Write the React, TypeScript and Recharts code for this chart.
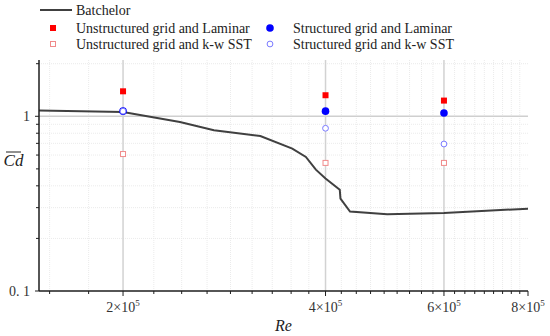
import React from 'react';
import { ComposedChart, Line, Scatter, XAxis, YAxis, ReferenceLine, Label } from 'recharts';

// ---- data ----
const batchelorRe = [150000, 200000, 243000, 273000, 320000, 357000, 374000, 387000, 400000, 420000, 421000, 435000, 494000, 600000, 800000];
const batchelorCd = [1.08, 1.058, 0.928, 0.831, 0.771, 0.653, 0.585, 0.495, 0.44, 0.38, 0.338, 0.285, 0.275, 0.28, 0.296];

const simRe = [200000, 400000, 600000];
const unstructLaminar = [1.39, 1.32, 1.23];
const unstructSST = [0.608, 0.541, 0.541];
const structLaminar = [1.07, 1.07, 1.045];
const structSST = [1.07, 0.854, 0.694];

const xMajorTicks = [200000, 400000, 600000, 800000];
const xMajorMantissa = ['2', '4', '6', '8'];
const xExponent = '5';
const yMajorTicks = [0.1, 1];
const yMajorLabels = ['0. 1', '1'];
const yMinorTicks = [0.2, 0.3, 0.4, 0.5, 0.6, 0.7, 0.8, 0.9, 2];

const seriesNames = [
  'Batchelor',
  'Unstructured grid and Laminar',
  'Unstructured grid and k-w SST',
  'Structured grid and Laminar',
  'Structured grid and k-w SST',
];

const X_DOMAIN = [150000, 800000];
const Y_DOMAIN = [0.1, 2.1];

// minor x ticks: 9 subdivisions of the 2e5 major spacing
const xMinorTicks: number[] = [];
for (let k = -2; k <= 27; k++) {
  if (k % 9 === 0) continue;
  const v = 200000 + (k * 200000) / 9;
  if (v > X_DOMAIN[0] && v < X_DOMAIN[1]) xMinorTicks.push(v);
}
const xAllTicks = [...xMajorTicks, ...xMinorTicks].sort((a, b) => a - b);
const yAllTicks = [...yMajorTicks, ...yMinorTicks].sort((a, b) => a - b);

const toPts = (xs: number[], ys: number[]) => xs.map((re, i) => ({ re, cd: ys[i] }));
const batchelorData = toPts(batchelorRe, batchelorCd);
const ulData = toPts(simRe, unstructLaminar);
const usData = toPts(simRe, unstructSST);
const slData = toPts(simRe, structLaminar);
const ssData = toPts(simRe, structSST);

const FONT = 'Liberation Serif';
const AXIS = '#1e1e1e';
const RED = '#ff0000';
const LRED = '#f08a8a';
const BLUE = '#0000ff';
const LBLUE = '#7a7aff';

const isMajorX = (v: number) => xMajorTicks.indexOf(v);
const isMajorY = (v: number) => yMajorTicks.indexOf(v);

const XTickBottom = (props: any) => {
  const { x, y, payload } = props;
  const idx = isMajorX(payload.value);
  const major = idx >= 0;
  return (
    <g>
      <line x1={x} x2={x} y1={y} y2={y + (major ? 5 : 3)} stroke={AXIS} strokeWidth={1} />
      {major && (
        <text x={x} y={y + 21} textAnchor="middle" style={{ fontFamily: FONT, fontSize: 14 }} fill="#333">
          {xMajorMantissa[idx]}×10
          <tspan dy={-6} style={{ fontSize: 9 }}>{xExponent}</tspan>
        </text>
      )}
    </g>
  );
};

const XTickTop = (props: any) => {
  const { x, y, payload } = props;
  const major = isMajorX(payload.value) >= 0;
  return <line x1={x} x2={x} y1={y} y2={y + (major ? 4 : 3)} stroke={AXIS} strokeWidth={1} />;
};

const YTickLeft = (props: any) => {
  const { x, y, payload } = props;
  const idx = isMajorY(payload.value);
  const major = idx >= 0;
  return (
    <g>
      <line x1={x - (major ? 4 : 3)} x2={x} y1={y} y2={y} stroke={AXIS} strokeWidth={1} />
      {major && (
        <text x={x - 9} y={y + 5} textAnchor="end" style={{ fontFamily: FONT, fontSize: 14 }} fill="#333">
          {yMajorLabels[idx]}
        </text>
      )}
    </g>
  );
};

const YTickRight = (props: any) => {
  const { x, y, payload } = props;
  const major = isMajorY(payload.value) >= 0;
  return <line x1={x - (major ? 4 : 3)} x2={x} y1={y} y2={y} stroke={AXIS} strokeWidth={1} />;
};

const FilledSquare = (p: any) => (
  <rect x={p.cx - 3} y={p.cy - 3} width={6} height={6} fill={RED} />
);
const HollowSquare = (p: any) => (
  <rect x={p.cx - 2.5} y={p.cy - 2.5} width={5} height={5} fill="#fff" stroke={LRED} strokeWidth={1} />
);
const FilledCircle = (p: any) => <circle cx={p.cx} cy={p.cy} r={3.8} fill={BLUE} />;
const HollowCircle = (p: any) => (
  <circle cx={p.cx} cy={p.cy} r={2.9} fill="#fff" stroke={LBLUE} strokeWidth={1} />
);

const legendText = { fontFamily: FONT, fontSize: 14 };

const LegendOverlay = () => (
  <svg width={550} height={56} style={{ position: 'absolute', left: 0, top: 0 }}>
    <g fill="#222">
      <line x1={40} x2={72} y1={10} y2={10} stroke="#404040" strokeWidth={2} />
      <text x={76} y={15} style={legendText}>{seriesNames[0]}</text>
      <rect x={50} y={25} width={6} height={6} fill={RED} />
      <text x={76} y={33} style={legendText}>{seriesNames[1]}</text>
      <rect x={50.5} y={41.5} width={5} height={5} fill="#fff" stroke={LRED} strokeWidth={1} />
      <text x={76} y={49} style={legendText}>{seriesNames[2]}</text>
      <circle cx={270} cy={28} r={3.8} fill={BLUE} />
      <text x={293} y={33} style={legendText}>{seriesNames[3]}</text>
      <circle cx={270} cy={44} r={2.9} fill="#fff" stroke={LBLUE} strokeWidth={1} />
      <text x={293} y={49} style={legendText}>{seriesNames[4]}</text>
    </g>
  </svg>
);

const CdLabel = () => (
  <g>
    <line x1={6} x2={21} y1={152} y2={152} stroke="#222" strokeWidth={1} />
    <text x={13.5} y={166} textAnchor="middle" style={{ fontFamily: FONT, fontSize: 17, fontStyle: 'italic' }} fill="#222">
      Cd
    </text>
  </g>
);

const ReLabel = () => (
  <text x={283.5} y={331} textAnchor="middle" style={{ fontFamily: FONT, fontSize: 16, fontStyle: 'italic' }} fill="#222">
    Re
  </text>
);

export default function App() {
  return (
    <div style={{ position: 'absolute', left: 0, top: 0, width: 550, height: 336, background: '#fff', fontFamily: FONT }}>
      <ComposedChart
        width={550}
        height={336}
        margin={{ top: 60, right: 22, bottom: 0, left: 0 }}
        style={{ position: 'absolute', left: 0, top: 0 }}
      >
        <XAxis
          dataKey="re"
          type="number"
          scale="log"
          domain={X_DOMAIN}
          allowDataOverflow
          ticks={xAllTicks}
          interval={0}
          height={45}
          tickSize={0}
          tickMargin={0}
          tick={<XTickBottom />}
          tickLine={false}
          axisLine={{ stroke: AXIS, strokeWidth: 1.5 }}
        >
          <Label content={<ReLabel />} />
        </XAxis>
        <XAxis
          xAxisId="top"
          orientation="top"
          dataKey="re"
          type="number"
          scale="log"
          domain={X_DOMAIN}
          allowDataOverflow
          ticks={xAllTicks}
          interval={0}
          height={0}
          tickSize={0}
          tickMargin={0}
          tick={<XTickTop />}
          tickLine={false}
          axisLine={{ stroke: AXIS, strokeWidth: 1.5 }}
        />
        <YAxis
          dataKey="cd"
          type="number"
          scale="log"
          domain={Y_DOMAIN}
          allowDataOverflow
          ticks={yAllTicks}
          interval={0}
          width={39}
          tickSize={0}
          tickMargin={0}
          tick={<YTickLeft />}
          tickLine={false}
          axisLine={{ stroke: AXIS, strokeWidth: 1.5 }}
        >
          <Label content={<CdLabel />} />
        </YAxis>
        <YAxis
          yAxisId="right"
          orientation="right"
          dataKey="cd"
          type="number"
          scale="log"
          domain={Y_DOMAIN}
          allowDataOverflow
          ticks={yAllTicks}
          interval={0}
          width={0}
          tickSize={0}
          tickMargin={0}
          tick={<YTickRight />}
          tickLine={false}
          axisLine={{ stroke: AXIS, strokeWidth: 1.5 }}
        />

        {xMinorTicks.map((v) => (
          <ReferenceLine key={'xm' + v} x={v} stroke="#ebebeb" strokeWidth={1} strokeDasharray="1 1" />
        ))}
        {yMinorTicks.map((v) => (
          <ReferenceLine key={'ym' + v} y={v} stroke="#ebebeb" strokeWidth={1} strokeDasharray="1 1" />
        ))}
        {xMajorTicks.slice(0, 3).map((v) => (
          <ReferenceLine key={'xM' + v} x={v} stroke="#d2d2d2" strokeWidth={1.5} />
        ))}
        <ReferenceLine y={1} stroke="#cfcfcf" strokeWidth={1.5} />

        <Line
          data={batchelorData}
          dataKey="cd"
          type="linear"
          stroke="#404040"
          strokeWidth={2}
          dot={false}
          activeDot={false}
          isAnimationActive={false}
          name={seriesNames[0]}
        />
        <Scatter data={ulData} dataKey="cd" shape={<FilledSquare />} isAnimationActive={false} name={seriesNames[1]} />
        <Scatter data={usData} dataKey="cd" shape={<HollowSquare />} isAnimationActive={false} name={seriesNames[2]} />
        <Scatter data={slData} dataKey="cd" shape={<FilledCircle />} isAnimationActive={false} name={seriesNames[3]} />
        <Scatter data={ssData} dataKey="cd" shape={<HollowCircle />} isAnimationActive={false} name={seriesNames[4]} />
      </ComposedChart>
      <LegendOverlay />
    </div>
  );
}
